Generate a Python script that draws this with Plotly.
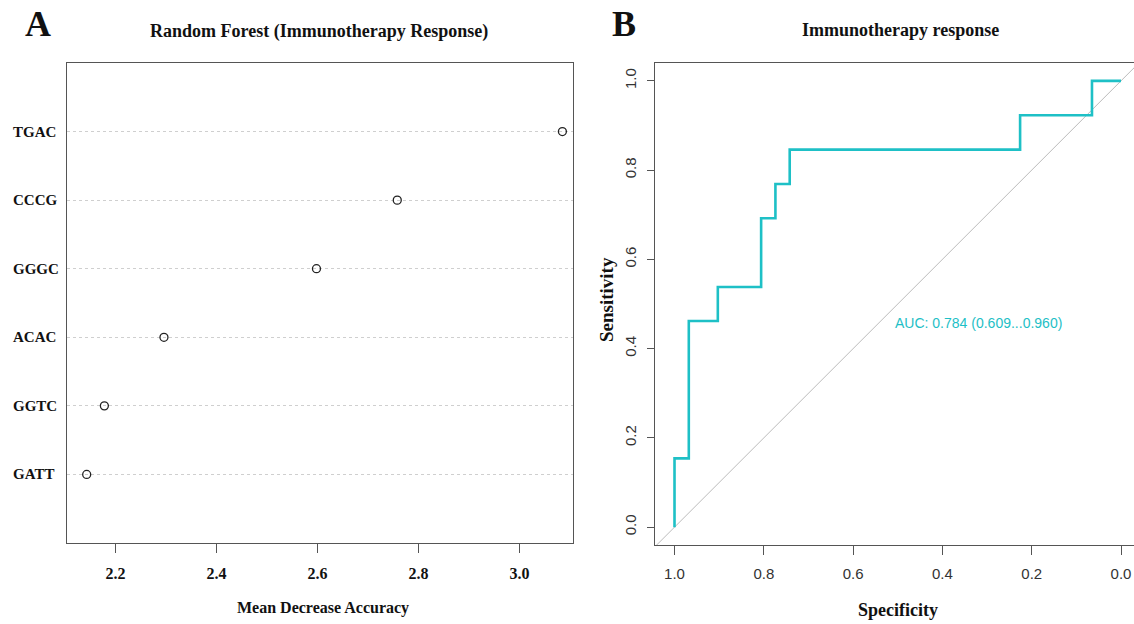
import plotly.graph_objects as go

# ---------------- data ----------------
features = ["GATT", "GGTC", "ACAC", "GGGC", "CCCG", "TGAC"]
mean_decrease_accuracy = [2.143, 2.178, 2.296, 2.598, 2.758, 3.085]
rf_xticks = [2.2, 2.4, 2.6, 2.8, 3.0]
rf_xticklabels = ["2.2", "2.4", "2.6", "2.8", "3.0"]

roc_specificity = [1.0, 0.968, 0.903, 0.806, 0.774, 0.742, 0.226, 0.065, 0.0]
roc_sensitivity = [0.0, 0.154, 0.462, 0.538, 0.692, 0.769, 0.846, 0.923, 1.0]
roc_ticks = [0.0, 0.2, 0.4, 0.6, 0.8, 1.0]
roc_ticklabels = ["0.0", "0.2", "0.4", "0.6", "0.8", "1.0"]
auc_text = "AUC: 0.784 (0.609...0.960)"

W, H = 1134, 624
SERIF = "Liberation Serif, Times New Roman, serif"
SANS = "Liberation Sans, Arial, Helvetica, sans-serif"
ROC_COLOR = "#1EC0C6"
BOX = "#555555"

def px_x(p):
    return p / W

def px_y(p):
    return 1 - p / H

fig = go.Figure()

# ---------------- panel A: dot chart ----------------
row_pos = list(range(1, len(features) + 1))
fig.add_trace(go.Scatter(
    x=mean_decrease_accuracy, y=row_pos, mode="markers",
    marker=dict(symbol="circle-open", size=8, color="#222222", line=dict(width=1.3, color="#222222")),
    xaxis="x", yaxis="y", showlegend=False, hoverinfo="skip",
))

for name, pos in zip(features, row_pos):
    fig.add_annotation(
        x=px_x(11), y=pos, xref="paper", yref="y", text=name, showarrow=False,
        xanchor="left", yanchor="middle",
        font=dict(family=SERIF, size=15, color="#111111", weight="bold"),
    )

# ---------------- panel B: ROC ----------------
fig.add_shape(type="line", x0=1.1, y0=-0.1, x1=-0.1, y1=1.1, xref="x2", yref="y2",
              line=dict(color="#BBBBBB", width=1), layer="below")

fig.add_trace(go.Scatter(
    x=roc_specificity, y=roc_sensitivity, mode="lines", line_shape="vh",
    line=dict(color=ROC_COLOR, width=2.6),
    xaxis="x2", yaxis="y2", showlegend=False, hoverinfo="skip",
))

fig.add_annotation(
    x=0.51, y=0.457, xref="x2", yref="y2", text=auc_text, showarrow=False,
    xanchor="left", yanchor="middle", font=dict(family=SANS, size=14, color=ROC_COLOR),
)

# ---------------- titles / labels ----------------
def label(text, x, y, size, angle=0, family=SERIF):
    fig.add_annotation(
        x=px_x(x), y=px_y(y), xref="paper", yref="paper", text=text, showarrow=False,
        xanchor="center", yanchor="middle", textangle=angle,
        font=dict(family=family, size=size, color="#111111", weight="bold"),
    )

label("A", 38, 24, 36)
label("B", 624, 24, 36)
label("Random Forest (Immunotherapy Response)", 319, 31, 18)
label("Immunotherapy response", 900, 30, 18)
label("Mean Decrease Accuracy", 323, 608, 16)
label("Specificity", 898, 610, 18)
label("Sensitivity", 606, 300, 19, angle=-90)

fig.update_layout(
    width=W, height=H,
    margin=dict(l=0, r=0, t=0, b=0, autoexpand=False),
    paper_bgcolor="white", plot_bgcolor="white",
    xaxis=dict(
        domain=[px_x(67), px_x(573)], range=[2.104, 3.106], automargin=False,
        tickmode="array", tickvals=rf_xticks, ticktext=rf_xticklabels,
        ticks="outside", ticklen=9, tickcolor=BOX, tickwidth=1,
        showline=True, linecolor=BOX, linewidth=1, mirror=True,
        showgrid=False, zeroline=False, ticklabelstandoff=7,
        tickfont=dict(family=SERIF, size=16, color="#111111", weight="bold"),
    ),
    yaxis=dict(
        domain=[px_y(543), px_y(63)], range=[0, 7], automargin=False,
        tickmode="array", tickvals=row_pos, showticklabels=False,
        showline=True, linecolor=BOX, linewidth=1, mirror=True,
        showgrid=True, gridcolor="#CFCFCF", gridwidth=1, griddash="dot",
        zeroline=False, ticks="",
    ),
    xaxis2=dict(
        domain=[px_x(655), 1.0], range=[1.0437, -0.0291], automargin=False,
        tickmode="array", tickvals=roc_ticks, ticktext=roc_ticklabels,
        ticks="outside", ticklen=9, tickcolor=BOX, tickwidth=1,
        showline=True, linecolor=BOX, linewidth=1, mirror=True,
        showgrid=False, zeroline=False, ticklabelstandoff=6,
        tickfont=dict(family=SANS, size=15, color="#333333"),
        anchor="y2",
    ),
    yaxis2=dict(
        domain=[px_y(545), px_y(63)], range=[-0.04, 1.04], automargin=False,
        tickmode="array", tickvals=roc_ticks, ticktext=roc_ticklabels,
        ticks="outside", ticklen=7, tickcolor=BOX, tickwidth=1, tickangle=-90,
        showline=True, linecolor=BOX, linewidth=1, mirror=False,
        showgrid=False, zeroline=False, ticklabelstandoff=5,
        tickfont=dict(family=SANS, size=15, color="#333333"),
        anchor="x2",
    ),
)

fig.write_html(
    "out.html",
    config={"displayModeBar": False},
    post_script="document.body.style.margin='0';document.body.style.padding='0';",
)
